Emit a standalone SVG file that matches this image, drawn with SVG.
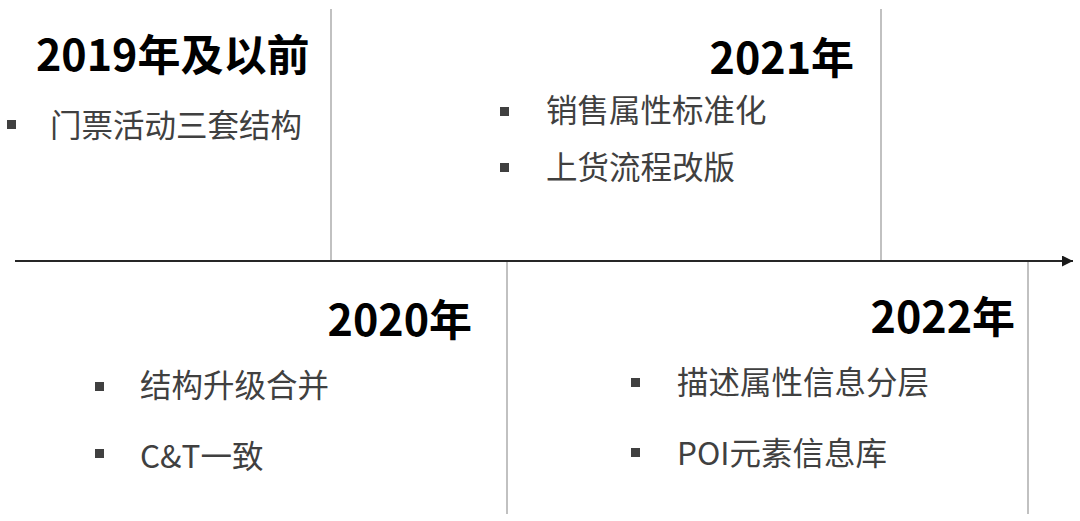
<svg xmlns="http://www.w3.org/2000/svg" width="1080" height="521" viewBox="0 0 1080 521">
<defs>
<style>
.h{font-family:"Noto Sans CJK SC","Noto Sans",sans-serif;font-weight:bold;font-size:43px;fill:#000}
.t{font-family:"Noto Sans CJK SC","Noto Sans",sans-serif;font-size:31.5px;fill:#404040}
.b{fill:#404040}
.v{stroke:#a0a0a0;stroke-width:1.3;fill:none}
</style>
<marker id="arr" viewBox="0 0 10 10" refX="10" refY="5" markerWidth="11" markerHeight="11" markerUnits="userSpaceOnUse" orient="auto">
<path d="M0,0 L10,5 L0,10 z" fill="#1a1a1a"/>
</marker>
</defs>
<rect width="1080" height="521" fill="#fff"/>
<g id="connectors">
<line class="v" x1="331" y1="9" x2="331" y2="261"/>
<line class="v" x1="881" y1="9" x2="881" y2="261"/>
<line class="v" x1="507" y1="261" x2="507" y2="514"/>
<line class="v" x1="1028" y1="261" x2="1028" y2="514"/>
<line x1="15" y1="261" x2="1073" y2="261" stroke="#262626" stroke-width="1.8" marker-end="url(#arr)"/>
</g>
<g id="node-2019">
<text class="h" x="36" y="71">2019年及以前</text>
<rect class="b" x="7" y="120" width="9" height="9"/>
<text class="t" x="50" y="137">门票活动三套结构</text>
</g>
<g id="node-2020">
<text class="h" x="472" y="336" text-anchor="end">2020年</text>
<rect class="b" x="95" y="382" width="9" height="9"/>
<text class="t" x="140" y="397">结构升级合并</text>
<rect class="b" x="95" y="449" width="9" height="9"/>
<text class="t" x="140" y="468">C&amp;T一致</text>
</g>
<g id="node-2021">
<text class="h" x="854" y="74" text-anchor="end">2021年</text>
<rect class="b" x="500" y="107" width="9" height="9"/>
<text class="t" x="546" y="122">销售属性标准化</text>
<rect class="b" x="500" y="163" width="9" height="9"/>
<text class="t" x="546" y="179">上货流程改版</text>
</g>
<g id="node-2022">
<text class="h" x="1015" y="333" text-anchor="end">2022年</text>
<rect class="b" x="631" y="378" width="9" height="9"/>
<text class="t" x="677" y="394">描述属性信息分层</text>
<rect class="b" x="631" y="448" width="9" height="9"/>
<text class="t" x="677" y="465">POI元素信息库</text>
</g>
</svg>
